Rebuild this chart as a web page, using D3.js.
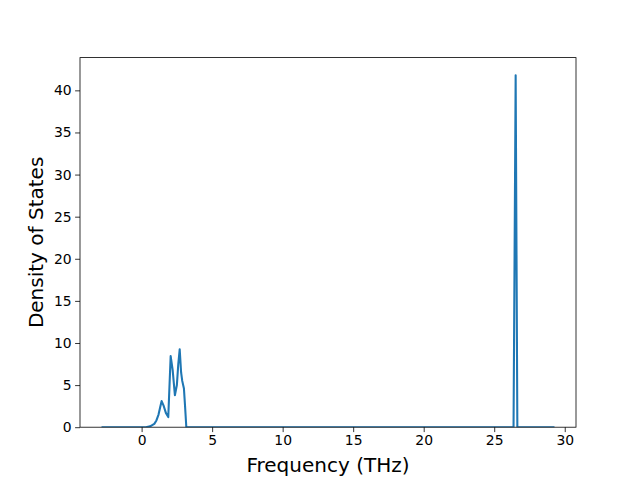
<!DOCTYPE html>
<html><head><meta charset="utf-8">
<script src="https://cdn.jsdelivr.net/npm/d3@7"></script>
<style>body{margin:0;background:#fff}svg{display:block}text{font-family:"DejaVu Sans",sans-serif}</style>
</head><body>
<script>
const freq = [-2.77, 0.3, 0.6, 0.9, 1.05, 1.2, 1.32, 1.42, 1.55, 1.72, 1.89, 2.06, 2.2, 2.36, 2.5, 2.6, 2.70, 2.8, 2.88, 3.0, 3.08, 3.17, 26.37, 26.52, 26.64, 29.2];
const dos  = [0, 0, 0.1, 0.4, 0.8, 1.5, 2.4, 3.1, 2.6, 1.7, 1.2, 8.45, 6.8, 3.8, 5.0, 7.5, 9.25, 6.5, 5.5, 4.6, 2.5, 0, 0, 41.8, 0, 0];
const xTicks = [0, 5, 10, 15, 20, 25, 30];
const yTicks = [0, 5, 10, 15, 20, 25, 30, 35, 40];

const W = 640, H = 480;
const m = {l: 80, r: 576, t: 57.6, b: 427.2};
const svg = d3.select("body").append("svg").attr("width", W).attr("height", H);

const xmin = d3.min(freq), xmax = d3.max(freq), pad = (xmax - xmin) * 0.05;
const x = d3.scaleLinear().domain([xmin - pad, xmax + pad]).range([m.l, m.r]);
const y = d3.scaleLinear().domain([0, d3.max(dos) * 1.05]).range([m.b, m.t]);

const data = freq.map((f, i) => [f, dos[i]]);

svg.append("defs").append("clipPath").attr("id", "c")
  .append("rect").attr("x", m.l).attr("y", m.t).attr("width", m.r - m.l).attr("height", m.b - m.t);

svg.append("path").datum(data)
  .attr("clip-path", "url(#c)")
  .attr("fill", "none").attr("stroke", "#1f77b4").attr("stroke-width", 2.08)
  .attr("stroke-linejoin", "round").attr("stroke-linecap", "square")
  .attr("d", d3.line().x(d => x(d[0])).y(d => y(d[1])));

const xa = svg.append("g").attr("transform", `translate(0,${m.b})`)
  .call(d3.axisBottom(x).tickValues(xTicks).tickSize(4.9).tickPadding(3.5).tickFormat(d3.format("d")));
const ya = svg.append("g").attr("transform", `translate(${m.l},0)`)
  .call(d3.axisLeft(y).tickValues(yTicks).tickSize(4.9).tickPadding(3.5).tickFormat(d3.format("d")));
[xa, ya].forEach(a => {
  a.select(".domain").remove();
  a.selectAll(".tick line").attr("stroke", "#000").attr("stroke-width", 0.8);
  a.selectAll(".tick text").attr("fill", "#000").style("font-size", "13.9px").style("font-family", "DejaVu Sans");
});

svg.append("rect").attr("x", m.l).attr("y", m.t).attr("width", m.r - m.l).attr("height", m.b - m.t)
  .attr("fill", "none").attr("stroke", "#000").attr("stroke-width", 0.8);

svg.append("text").attr("x", (m.l + m.r) / 2).attr("y", 472).attr("text-anchor", "middle")
  .style("font-size", "20px").text("Frequency (THz)");
svg.append("text").attr("transform", `translate(43,${(m.t + m.b) / 2}) rotate(-90)`).attr("text-anchor", "middle")
  .style("font-size", "20px").text("Density of States");
</script>
</body></html>
